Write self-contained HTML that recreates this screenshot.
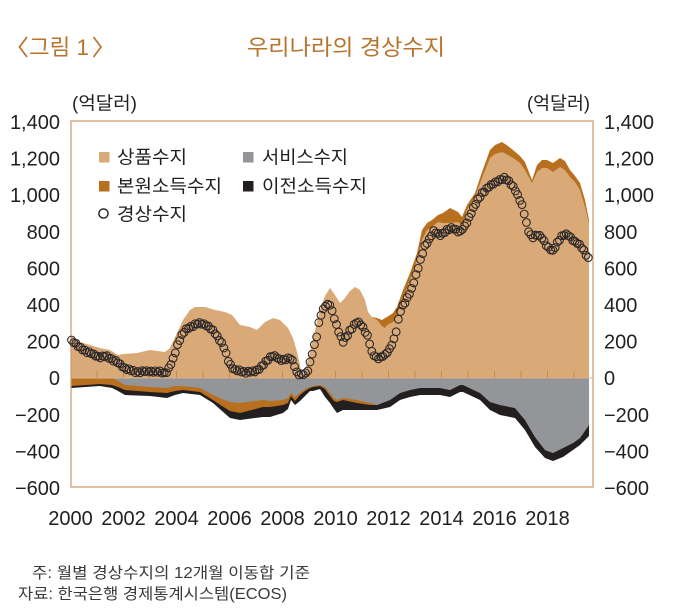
<!DOCTYPE html>
<html><head><meta charset="utf-8">
<style>
html,body{margin:0;padding:0;background:#fff;}
svg{display:block;}
.t{font-family:"Liberation Sans","Noto Sans CJK KR",sans-serif;}
</style></head>
<body>
<svg id="c" width="680" height="610" viewBox="0 0 680 610" xmlns="http://www.w3.org/2000/svg">
<rect x="0" y="0" width="680" height="610" fill="#fff"/>
<g id="areas"></g>
<g id="axes"></g>
<g id="circles" fill="none" stroke="#2a2626" stroke-width="1.05"></g>

<!-- titles -->
<polyline points="27,37 19.5,47 27,57" fill="none" stroke="#b8732e" stroke-width="1.7"/>
<text class="t" x="29" y="55" font-size="22" fill="#b8732e" textLength="60" lengthAdjust="spacingAndGlyphs">그림 1</text>
<polyline points="93.5,37 101,47 93.5,57" fill="none" stroke="#b8732e" stroke-width="1.7"/>
<text class="t" x="247" y="55" font-size="22" fill="#b8732e" textLength="198" lengthAdjust="spacingAndGlyphs">우리나라의 경상수지</text>

<!-- units -->
<text class="t" x="72" y="109.5" font-size="18" fill="#231f20" textLength="65" lengthAdjust="spacingAndGlyphs">(억달러)</text>
<text class="t" x="527" y="109.5" font-size="18" fill="#231f20" textLength="63" lengthAdjust="spacingAndGlyphs">(억달러)</text>

<!-- left axis labels -->
<g class="t" font-size="20" fill="#231f20" text-anchor="end">
<text x="60" y="129">1,400</text>
<text x="60" y="165.6">1,200</text>
<text x="60" y="202.2">1,000</text>
<text x="60" y="238.8">800</text>
<text x="60" y="275.4">600</text>
<text x="60" y="312">400</text>
<text x="60" y="348.6">200</text>
<text x="60" y="385.2">0</text>
<text x="60" y="421.8">−200</text>
<text x="60" y="458.4">−400</text>
<text x="60" y="495">−600</text>
</g>
<!-- right axis labels -->
<g class="t" font-size="20" fill="#231f20" text-anchor="start">
<text x="604" y="129">1,400</text>
<text x="604" y="165.6">1,200</text>
<text x="604" y="202.2">1,000</text>
<text x="604" y="238.8">800</text>
<text x="604" y="275.4">600</text>
<text x="604" y="312">400</text>
<text x="604" y="348.6">200</text>
<text x="604" y="385.2">0</text>
<text x="604" y="421.8">−200</text>
<text x="604" y="458.4">−400</text>
<text x="604" y="495">−600</text>
</g>
<!-- x labels -->
<g class="t" font-size="20" fill="#231f20" text-anchor="middle">
<text x="70.5" y="525">2000</text>
<text x="123.5" y="525">2002</text>
<text x="176.5" y="525">2004</text>
<text x="229.5" y="525">2006</text>
<text x="282.5" y="525">2008</text>
<text x="335.5" y="525">2010</text>
<text x="388.5" y="525">2012</text>
<text x="441.5" y="525">2014</text>
<text x="494.5" y="525">2016</text>
<text x="547.5" y="525">2018</text>
</g>

<!-- legend -->
<rect x="99" y="152" width="10.5" height="10.5" fill="#d9a978"/>
<text class="t" x="117" y="163.5" font-size="18" fill="#231f20" textLength="70" lengthAdjust="spacingAndGlyphs">상품수지</text>
<rect x="99" y="181" width="10.5" height="10.5" fill="#b8701f"/>
<text class="t" x="117" y="192.5" font-size="18" fill="#231f20" textLength="105" lengthAdjust="spacingAndGlyphs">본원소득수지</text>
<circle cx="103.5" cy="213.5" r="4.6" fill="none" stroke="#231f20" stroke-width="1.4"/>
<text class="t" x="117" y="220.5" font-size="18" fill="#231f20" textLength="70" lengthAdjust="spacingAndGlyphs">경상수지</text>
<rect x="243" y="152" width="10.5" height="10.5" fill="#939598"/>
<text class="t" x="262" y="163.5" font-size="18" fill="#231f20" textLength="86" lengthAdjust="spacingAndGlyphs">서비스수지</text>
<rect x="243" y="181" width="10.5" height="10.5" fill="#231f20"/>
<text class="t" x="262" y="192.5" font-size="18" fill="#231f20" textLength="105" lengthAdjust="spacingAndGlyphs">이전소득수지</text>

<!-- notes -->
<text class="t" x="32" y="578" font-size="15.5" fill="#3a3a3a" textLength="278" lengthAdjust="spacingAndGlyphs">주: 월별 경상수지의 12개월 이동합 기준</text>
<text class="t" x="18" y="599" font-size="15.5" fill="#3a3a3a" textLength="269" lengthAdjust="spacingAndGlyphs">자료: 한국은행 경제통계시스템(ECOS)</text>
</svg>

<script>
(function(){
var NS="http://www.w3.org/2000/svg";
var Z=378;
function el(tag,attrs,parent){var e=document.createElementNS(NS,tag);for(var k in attrs)e.setAttribute(k,attrs[k]);parent.appendChild(e);return e;}
function interp(p,x){if(x<=p[0][0])return p[0][1];for(var i=0;i<p.length-1;i++){if(x<=p[i+1][0]){var t=(x-p[i][0])/(p[i+1][0]-p[i][0]);return p[i][1]+t*(p[i+1][1]-p[i][1]);}}return p[p.length-1][1];}
function areaPts(top){var s=top[0][0]+","+Z;for(var i=0;i<top.length;i++)s+=" "+top[i][0]+","+top[i][1];s+=" "+top[top.length-1][0]+","+Z;return s;}

var goods=[[71,336],[80,342],[90,345],[100,348],[110,350],[118,355],[123,354],[137,353],[150,350],[165,352],[170,348],[176,335],[183,320],[190,310],[195,307],[205,307],[215,310],[225,312],[232,315],[240,325],[250,327],[257,330],[265,322],[273,318],[280,320],[288,328],[293,338],[297,352],[300,365],[302,376],[305,372],[310,352],[315,330],[320,310],[325,296],[330,288],[335,295],[340,303],[345,298],[350,291],[355,287],[360,290],[365,300],[368,312],[372,317],[377,320],[382,326],[385,328],[387,325],[393,322],[397,315],[403,298],[410,280],[417,260],[422,240],[427,230],[432,227],[438,222],[443,223],[450,223],[458,222],[462,225],[467,210],[475,197],[482,178],[490,158],[495,154],[502,152],[508,155],[513,158],[520,163],[525,170],[532,183],[537,172],[542,168],[547,168],[553,172],[560,167],[565,170],[570,177],[575,182],[580,190],[585,207],[589,223]];
var brownTop=[[372,317],[377,318],[382,320],[385,318],[387,317],[393,313],[397,307],[403,290],[410,273],[417,253],[422,230],[427,223],[432,220],[438,215],[443,213],[450,208],[458,212],[462,217],[467,205],[475,193],[482,172],[490,150],[495,145],[502,142],[508,146],[513,150],[520,156],[525,162],[532,180],[537,165],[542,160],[547,160],[553,163],[560,158],[565,161],[570,170],[575,176],[580,183],[585,200],[589,220]];
var neg=[[71,378,386,388],[100,378,384,386],[112,378,385,388],[118,381,387,391],[125,385,390,395],[150,387,392,396],[167,388,393,398],[175,386,391,395],[183,386,390,393],[200,388,392,395],[213,395,400,403],[222,399,406,411],[230,402,411,418],[240,403,413,420],[263,400,407,417],[270,401,407,417],[283,400,405,413],[288,398,403,409],[291,393,396,400],[295,397,401,405],[300,393,395,401],[305,389,391,396],[310,387,388,391],[313,386,387,391],[320,385,386,389],[325,387,389,397],[330,393,396,403],[334,398,401,409],[337,400,402,413],[343,398,400,410],[357,400,403,410],[370,403,405,410],[377,405,405,410],[390,400,400,407],[400,393,393,400],[410,390,390,397],[420,388,388,395],[440,388,388,395],[450,390,390,397],[460,385,385,392],[463,385,385,392],[480,393,393,400],[490,402,402,410],[500,405,405,415],[515,408,408,418],[525,420,420,430],[535,437,437,447],[545,450,450,458],[553,453,453,461],[563,448,448,457],[573,443,443,450],[580,438,438,445],[589,425,425,436]];
function col(k){return neg.map(function(r){return [r[0],r[k]];});}

var A=document.getElementById("areas");
el("polygon",{points:areaPts(col(3)),fill:"#231f20"},A);
el("polygon",{points:areaPts(col(2)),fill:"#b8701f"},A);
el("polygon",{points:areaPts(col(1)),fill:"#939598"},A);
el("polygon",{points:areaPts(brownTop),fill:"#b8701f"},A);
el("polygon",{points:areaPts(goods),fill:"#d9a978"},A);

var X=document.getElementById("axes");
el("line",{x1:71,y1:Z,x2:593,y2:Z,stroke:"#d8b48c","stroke-width":1},X);
for(var k=1;k<=19;k++){var xx=70.5+26.5*k;el("line",{x1:xx,y1:371,x2:xx,y2:Z,stroke:"#c98a4a","stroke-width":1},X);}
el("rect",{x:71,y:121,width:522,height:366,fill:"none",stroke:"#cc9b66","stroke-width":1.2},X);

var cp=[[72,340],[80,348],[90,353],[100,357],[105,356],[110,358],[117,362],[125,368],[135,372],[150,371],[160,372],[165,373],[168,370],[172,362],[175,353],[178,343],[183,333],[188,328],[194,325],[200,323],[205,324],[210,328],[215,333],[220,340],[225,350],[228,360],[232,367],[235,370],[245,372],[250,372],[255,371],[260,368],[265,363],[272,355],[276,357],[280,360],[285,359],[290,358],[293,362],[295,367],[297,373],[302,375],[307,373],[310,362],[313,350],[316,340],[320,317],[325,305],[330,305],[335,320],[340,335],[343,342],[347,336],[350,330],[357,322],[360,323],[363,327],[368,337],[372,353],[376,357],[380,358],[385,355],[390,348],[395,337],[400,312],[403,305],[408,297],[412,288],[415,278],[418,268],[422,255],[425,246],[430,238],[433,231],[440,235],[447,230],[453,228],[460,232],[465,226],[470,215],[475,205],[482,193],[490,186],[495,182],[500,180],[505,178],[510,182],[515,190],[520,200],[523,207],[525,217],[528,230],[532,238],[537,234],[542,238],[547,246],[553,251],[558,242],[563,234],[568,235],[573,240],[578,243],[582,248],[585,253],[589,259]];
var C=document.getElementById("circles");
var jit=[0,1.2,-0.8,0.6,-1.3,0.9,-0.4,1.5,-1.0,0.3,-0.7,1.1];
for(var i=0;i<=234;i++){var x=71.5+i*26.5/12;var y=interp(cp,x)+jit[i%12]*0.8;el("circle",{cx:x.toFixed(2),cy:y.toFixed(2),r:3.9},C);}
})();
</script>
</body></html>
